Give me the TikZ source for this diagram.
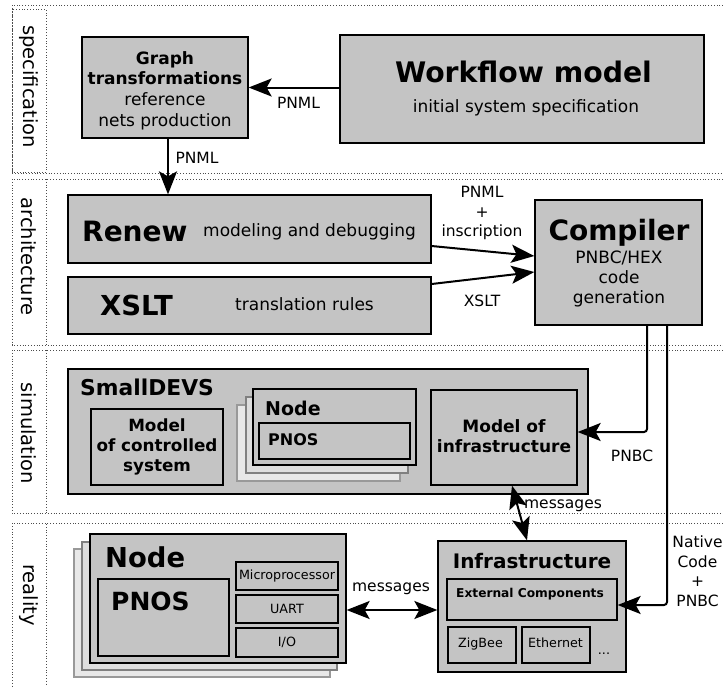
\documentclass[tikz,border=0pt]{standalone}
\usepackage{fontspec}
\setmainfont{DejaVu Sans}
\usetikzlibrary{arrows.meta}
\definecolor{boxgray}{RGB}{196,196,196}
\definecolor{stackA}{RGB}{222,222,222}
\definecolor{stackB}{RGB}{232,232,232}
\newcommand\fsz[2]{\fontsize{#1}{#2}\selectfont}
\begin{document}
\begin{tikzpicture}[x=1pt,y=-1pt,
  box/.style={draw, fill=boxgray, line width=1.3pt, inner sep=0pt, align=center},
  sboxB/.style={draw=black!40, fill=stackB, line width=1.1pt, inner sep=0pt},
  sboxA/.style={draw=black!50, fill=stackA, line width=1.1pt, inner sep=0pt},
  lane/.style={dotted, line width=0.8pt, black!70},
  lanelbl/.style={inner sep=0pt, rotate=-90, font=\fsz{19.5}{23}},
  tipx/.tip={Stealth[length=23pt,width=18pt,inset=5pt]},
  arr/.style={line width=2pt, -tipx},
  darr/.style={line width=2pt, tipx-tipx},
  lbl/.style={inner sep=0pt, align=center, font=\fsz{15.5}{19.5}},
  txt/.style={inner sep=0pt, align=center},
]
\useasboundingbox (0,0) rectangle (723,686);

% lanes
\draw[lane] (723,5) -- (12,5) -- (12,173) -- (723,173);
\draw[lane] (12,9) rectangle (46,172);
\draw[lane] (723,179) -- (12,179) -- (12,345) -- (723,345);
\draw[lane] (46,179) -- (46,345);
\draw[lane] (723,350) -- (12,350) -- (12,513) -- (723,513);
\draw[lane] (46,350) -- (46,514);
\draw[lane] (723,523) -- (12,523) -- (12,686);
\draw[lane] (46,524) -- (46,686);
\node[lanelbl] (lspec) at (28.5,86.7) {specification};
\node[lanelbl] (larch) at (28.5,256.7) {architecture};
\node[lanelbl] (lsim) at (28.5,433.3) {simulation};
\node[lanelbl] (lreal) at (28.5,595) {reality};

% specification
\node[box, minimum width=166, minimum height=101] (gt) at (165,87.5) {};
\node[txt, font=\fsz{17}{20.7}] (gtT) at (165,90.5) {\textbf{Graph}\\\textbf{transformations}\\reference\\nets production};
\node[box, minimum width=364, minimum height=108] (wf) at (522,89) {};
\node[txt, anchor=base, font=\fsz{28.3}{32}\bfseries] (wfT) at (523.5,82) {Workflow model};
\node[txt, anchor=base, font=\fsz{17}{20}] (wfD) at (526,112) {initial system specification};

% architecture
\node[box, minimum width=363, minimum height=68] (renew) at (249.5,229) {};
\node[txt, anchor=base west, font=\fsz{28}{32}\bfseries] (renewT) at (82,241) {Renew};
\node[txt, anchor=base west, font=\fsz{17}{20}] (renewD) at (203,236) {modeling and debugging};
\node[box, minimum width=363, minimum height=57] (xslt) at (249.5,305.5) {};
\node[txt, anchor=base west, font=\fsz{27.5}{32}\bfseries] (xsltT) at (100,315) {XSLT};
\node[txt, anchor=base west, font=\fsz{17}{20}] (xsltD) at (235,310) {translation rules};
\node[box, minimum width=167, minimum height=125] (comp) at (618.5,262.5) {};
\node[txt, anchor=base, font=\fsz{28}{32}\bfseries] (compT) at (619,240) {Compiler};
\node[txt, font=\fsz{17}{20}] (compD) at (619,278.9) {PNBC/HEX\\code\\generation};

% simulation
\node[box, minimum width=520, minimum height=125] (sd) at (328,431.5) {};
\node[txt, anchor=base west, font=\fsz{21.8}{26}\bfseries] (sdT) at (80,395) {SmallDEVS};
\node[box, minimum width=132, minimum height=76] (mcs) at (157,447) {};
\node[txt, font=\fsz{16.8}{20}\bfseries] (mcsT) at (157,446.5) {Model\\of controlled\\system};
\node[sboxB, minimum width=163, minimum height=76] (snB) at (318.5,443) {};
\node[sboxA, minimum width=162, minimum height=76] (snM) at (327,435) {};
\node[box, minimum width=163, minimum height=76] (snF) at (334.5,427) {};
\node[txt, anchor=base west, font=\fsz{19}{23}\bfseries] (snT) at (265,415) {Node};
\node[box, minimum width=151, minimum height=36] (snP) at (334.5,441) {};
\node[txt, anchor=base west, font=\fsz{16}{19}\bfseries] (snPT) at (268,445) {PNOS};
\node[box, minimum width=146, minimum height=95] (moi) at (504,437.5) {};
\node[txt, font=\fsz{17}{20.5}\bfseries] (moiT) at (504,436.3) {Model of\\infrastructure};

% reality
\node[sboxB, minimum width=256, minimum height=128] (rnB) at (202,613) {};
\node[sboxA, minimum width=255, minimum height=128] (rnM) at (209.5,606) {};
\node[box, minimum width=256, minimum height=129] (rnF) at (218,598.5) {};
\node[txt, anchor=base west, font=\fsz{27.4}{32}\bfseries] (rnT) at (105,567) {Node};
\node[box, minimum width=131, minimum height=77] (rnP) at (163.5,617.5) {};
\node[txt, anchor=base west, font=\fsz{25}{30}\bfseries] (rnPT) at (111,610) {PNOS};
\node[box, minimum width=102, minimum height=28, font=\fsz{12.7}{15}] (mp) at (287,576) {Microprocessor};
\node[box, minimum width=102, minimum height=28, font=\fsz{12.7}{15}] (uart) at (287,609) {UART};
\node[box, minimum width=102, minimum height=29, font=\fsz{12.7}{15}] (io) at (287,642.5) {I/O};
\node[box, minimum width=188, minimum height=131] (infra) at (532,606.5) {};
\node[txt, anchor=base, font=\fsz{20}{24}\bfseries] (infraT) at (532,568.5) {Infrastructure};
\node[box, minimum width=170, minimum height=41] (ext) at (532,599.5) {};
\node[txt, anchor=base, font=\fsz{12.2}{15}\bfseries] (extT) at (530,597.3) {External Components};
\node[box, minimum width=68, minimum height=36] (zig) at (482,645) {};
\node[txt, anchor=base, font=\fsz{12.7}{15}] (zigT) at (480.5,647.5) {ZigBee};
\node[box, minimum width=68, minimum height=36] (eth) at (556,645) {};
\node[txt, anchor=base, font=\fsz{12.7}{15}] (ethT) at (555.5,647.5) {Ethernet};
\node[txt, anchor=base, font=\fsz{12.7}{15}] (dots) at (604,654) {...};

% connectors
\draw[arr] (wf.west |- gt.east) -- (gt.east);
\node[lbl] (l1) at (298.5,102.5) {PNML};
\coordinate (gtout) at ([xshift=3pt]gt.south);
\draw[arr] (gtout) -- (gtout |- renew.north);
\node[lbl] (l2) at (197,157.5) {PNML};
\draw[arr] ([yshift=-17pt]renew.east) -- ([yshift=6.5pt]comp.west);
\node[lbl] (l3) at (482,213) {PNML\\+\\inscription};
\draw[arr] ([yshift=21.5pt]xslt.east) -- ([yshift=-9.5pt]comp.west);
\node[lbl] (l4) at (482,301) {XSLT};
\draw[arr, rounded corners=3pt] ([xshift=28.5pt]comp.south) |- ([yshift=5.5pt]moi.east);
\node[lbl] (l5) at (632,456) {PNBC};
\draw[arr, rounded corners=3pt] ([xshift=48.5pt]comp.south) |- ([yshift=-5.5pt]ext.east);
\node[lbl] (l6) at (697.5,571.3) {Native\\Code\\+\\PNBC};
\draw[darr] ([xshift=8pt]moi.south) -- ([xshift=-5pt]infra.north);
\node[lbl, anchor=base] (l7) at (563,508) {messages};
\coordinate (mh) at (0,610);
\draw[darr] (rnF.east |- mh) -- (infra.west |- mh);
\node[lbl, anchor=base] (l8) at (391,591.5) {messages};
\end{tikzpicture}
\end{document}
